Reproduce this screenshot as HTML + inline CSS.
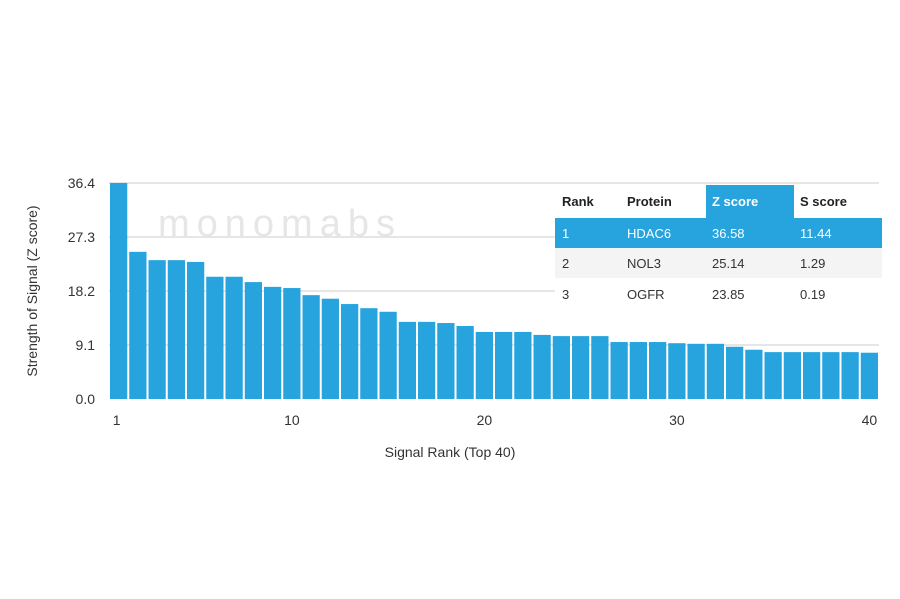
<!DOCTYPE html>
<html><head><meta charset="utf-8"><style>
body{margin:0;background:#fff;width:900px;height:594px;overflow:hidden;font-family:"Liberation Sans","DejaVu Sans",sans-serif}
</style></head><body>
<svg id="chart" width="900" height="594" xmlns="http://www.w3.org/2000/svg">
<g id="grid"></g>
<text x="158" y="236" font-size="38" font-weight="300" fill="#e6e6e6" letter-spacing="7">monomabs</text>
<g id="bars"></g>
<g id="axes"></g>
<g id="table"></g>
</svg>
<script>
const ranks=[];for(let i=1;i<=40;i++)ranks.push(i);
const zScores=[36.58,24.8,23.4,23.4,23.1,20.6,20.6,19.7,18.9,18.7,17.5,16.9,16.0,15.3,14.7,13.0,13.0,12.8,12.3,11.3,11.3,11.3,10.8,10.6,10.6,10.6,9.6,9.6,9.6,9.4,9.3,9.3,8.8,8.3,7.9,7.9,7.9,7.9,7.9,7.8];
const yTicks=[0.0,9.1,18.2,27.3,36.4];
const xTicks=[1,10,20,30,40];
const tableHeader=["Rank","Protein","Z score","S score"];
const tableRows=[["1","HDAC6","36.58","11.44"],["2","NOL3","25.14","1.29"],["3","OGFR","23.85","0.19"]];
const NS="http://www.w3.org/2000/svg";
const x0=109,x1=879,y0=399,yTop=183,yMax=36.4;
const bw=(x1-x0)/ranks.length;
const ys=v=>y0-Math.min(v,yMax)/yMax*(y0-yTop);
const xs=r=>x0+(r-1)*bw;
function mk(t,a,p){const e=document.createElementNS(NS,t);for(const k in a)e.setAttribute(k,a[k]);p.appendChild(e);return e;}
const grid=document.getElementById('grid'),bars=document.getElementById('bars'),axes=document.getElementById('axes'),tb=document.getElementById('table');
yTicks.forEach(t=>{
 if(t>0){const l=mk('line',{x1:x0,x2:x1,y1:ys(t),y2:ys(t),stroke:'#ddd','stroke-width':1.5},grid);
 
 }
 const tx=mk('text',{x:95,y:ys(t)+5,'text-anchor':'end','font-size':14,fill:'#333'},axes);tx.textContent=t.toFixed(1);
 
 
});
zScores.forEach((v,i)=>{
 const r=mk('rect',{x:xs(ranks[i])+1,y:ys(v),width:bw-2,height:y0-ys(v),fill:'#27a3de'},bars);
 
 
});
xTicks.forEach(t=>{
 const tx=mk('text',{x:xs(t)+bw/2-(t===1?2:0),y:425,'text-anchor':'middle','font-size':14,fill:'#333'},axes);tx.textContent=t;
 
 
});
const xt=mk('text',{x:450,y:457,'text-anchor':'middle','font-size':14,fill:'#333'},axes);xt.textContent='Signal Rank (Top 40)';


const yt=mk('text',{x:0,y:0,'text-anchor':'middle','font-size':14,fill:'#333',transform:'translate(37,291) rotate(-90)'},axes);yt.textContent='Strength of Signal (Z score)';


const tx0=555,tw=327,colX=[562,627,712,800];
const bg=mk('rect',{x:tx0,y:185,width:tw,height:125,fill:'#fff'},tb);


const zh=mk('rect',{x:706,y:185,width:88,height:33,fill:'#27a3de'},tb);


tableHeader.forEach((h,i)=>{const t=mk('text',{x:colX[i],y:206,'font-size':13,'font-weight':'bold',fill:i===2?'#fff':'#222'},tb);t.textContent=h;
 
 });
const rowY=[218,248,279],rowBg=['#27a3de','#f4f4f4','#fff'];
tableRows.forEach((row,ri)=>{
 const rr=mk('rect',{x:tx0,y:rowY[ri],width:tw,height:30,fill:rowBg[ri]},tb);
 
 
 row.forEach((c,ci)=>{const t=mk('text',{x:colX[ci],y:rowY[ri]+20,'font-size':13,fill:ri===0?'#fff':'#333'},tb);t.textContent=c;
 
 });
});
</script>
</body></html>
